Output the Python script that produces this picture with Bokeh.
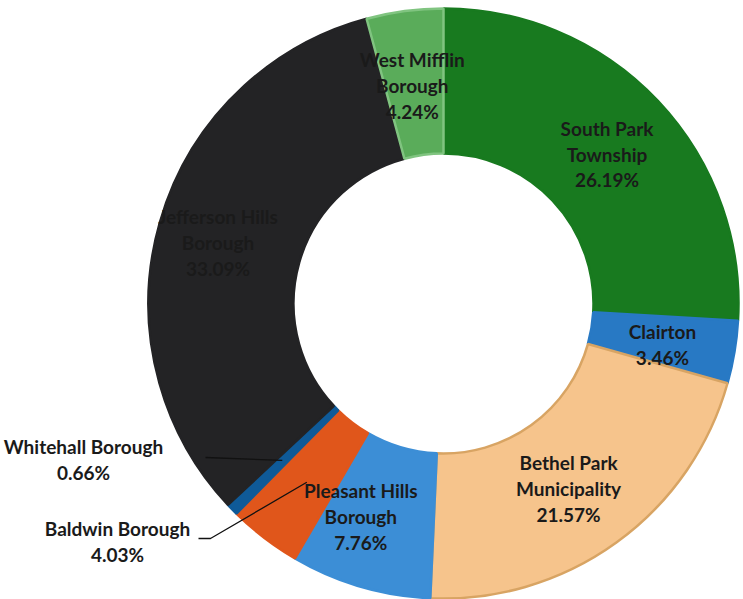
import math
from bokeh.plotting import figure
from bokeh.models import Range1d, ColumnDataSource
from bokeh.core.properties import value
from bokeh.embed import file_html
from bokeh.resources import INLINE

# ---- data ----
names = ["South Park\nTownship", "Clairton", "Bethel Park\nMunicipality", "Pleasant Hills\nBorough",
         "Baldwin Borough", "Whitehall Borough", "Jefferson Hills\nBorough", "West Mifflin\nBorough"]
shares = [26.19, 3.46, 21.57, 7.76, 4.03, 0.66, 33.09, 4.24]
pct_labels = ["26.19%", "3.46%", "21.57%", "7.76%", "4.03%", "0.66%", "33.09%", "4.24%"]
fill_colors = ["#187a1f", "#2879c4", "#f6c48c", "#3c8ed6", "#e0561b", "#0f5a98", "#232325", "#5aac5a"]
line_colors = ["#187a1f", "#2879c4", "#d8a463", "#3c8ed6", "#e0561b", "#0f5a98", "#232325", "#80c480"]
outside = [False, False, False, False, True, True, False, False]
# small layout nudges for inside labels (pixels)
nudge_x = [2, 0, -5, -20, 0, 0, -12, -2]
nudge_y = [-3, -4, -5, 0, 0, 0, 0, -2]

# ---- geometry (image pixel space, y up) ----
W, H = 743, 599
CX, CY = 443, 599 - 303
R_OUT, R_IN = 295, 150
R_LAB = 222

total = sum(shares)
starts, ends, mids = [], [], []
acc = 0.0
for s in shares:
    a0 = math.pi / 2 - acc / total * 2 * math.pi
    acc += s
    a1 = math.pi / 2 - acc / total * 2 * math.pi
    starts.append(a0); ends.append(a1); mids.append((a0 + a1) / 2)

p = figure(width=W, height=H, output_backend="svg", toolbar_location=None,
           x_range=Range1d(0, W), y_range=Range1d(599 - H, 599),
           min_border=0)
p.axis.visible = False
p.grid.visible = False
p.outline_line_color = None
p.background_fill_color = "white"
p.border_fill_color = "white"

src = ColumnDataSource(dict(start=starts, end=ends, fill=fill_colors, line=line_colors))
p.annular_wedge(x=CX, y=CY, inner_radius=R_IN, outer_radius=R_OUT,
                start_angle="start", end_angle="end", direction="clock",
                fill_color="fill", line_color="line", line_width=2.5, source=src)

FS = "19px"
LH = 1.12

# inside labels
ix, iy, itxt = [], [], []
for n, pc, m, o, dx, dy in zip(names, pct_labels, mids, outside, nudge_x, nudge_y):
    if o:
        continue
    ix.append(CX + R_LAB * math.cos(m) + dx)
    iy.append(CY + R_LAB * math.sin(m) + dy)
    itxt.append(n + "\n" + pc)
p.text(x=ix, y=iy, text=itxt, text_align="center", text_baseline="middle",
       text_font=value("Lato"), text_font_style="bold", text_font_size=FS,
       text_color="#1a1a1a", text_line_height=LH)

# outside labels with leader lines
out_pos = {"Whitehall Borough": (83, 599 - 459, 205, 599 - 457),
           "Baldwin Borough": (117, 599 - 541, 198, 599 - 538)}
for n, pc, m, o in zip(names, pct_labels, mids, outside):
    if not o:
        continue
    lx, ly, sx, sy = out_pos[n]
    ex = CX + 225 * math.cos(m)
    ey = CY + 225 * math.sin(m)
    if n.startswith("Baldwin"):
        p.line(x=[sx, sx + 12, ex], y=[sy, sy, ey], line_color="#111111", line_width=1.3)
    else:
        p.line(x=[sx, ex], y=[sy, ey], line_color="#111111", line_width=1.3)
    p.text(x=[lx], y=[ly], text=[n + "\n" + pc], text_align="center", text_baseline="middle",
           text_font=value("Lato"), text_font_style="bold", text_font_size=FS,
           text_color="#1a1a1a", text_line_height=LH)

open("out.html", "w").write(file_html(p, INLINE))
